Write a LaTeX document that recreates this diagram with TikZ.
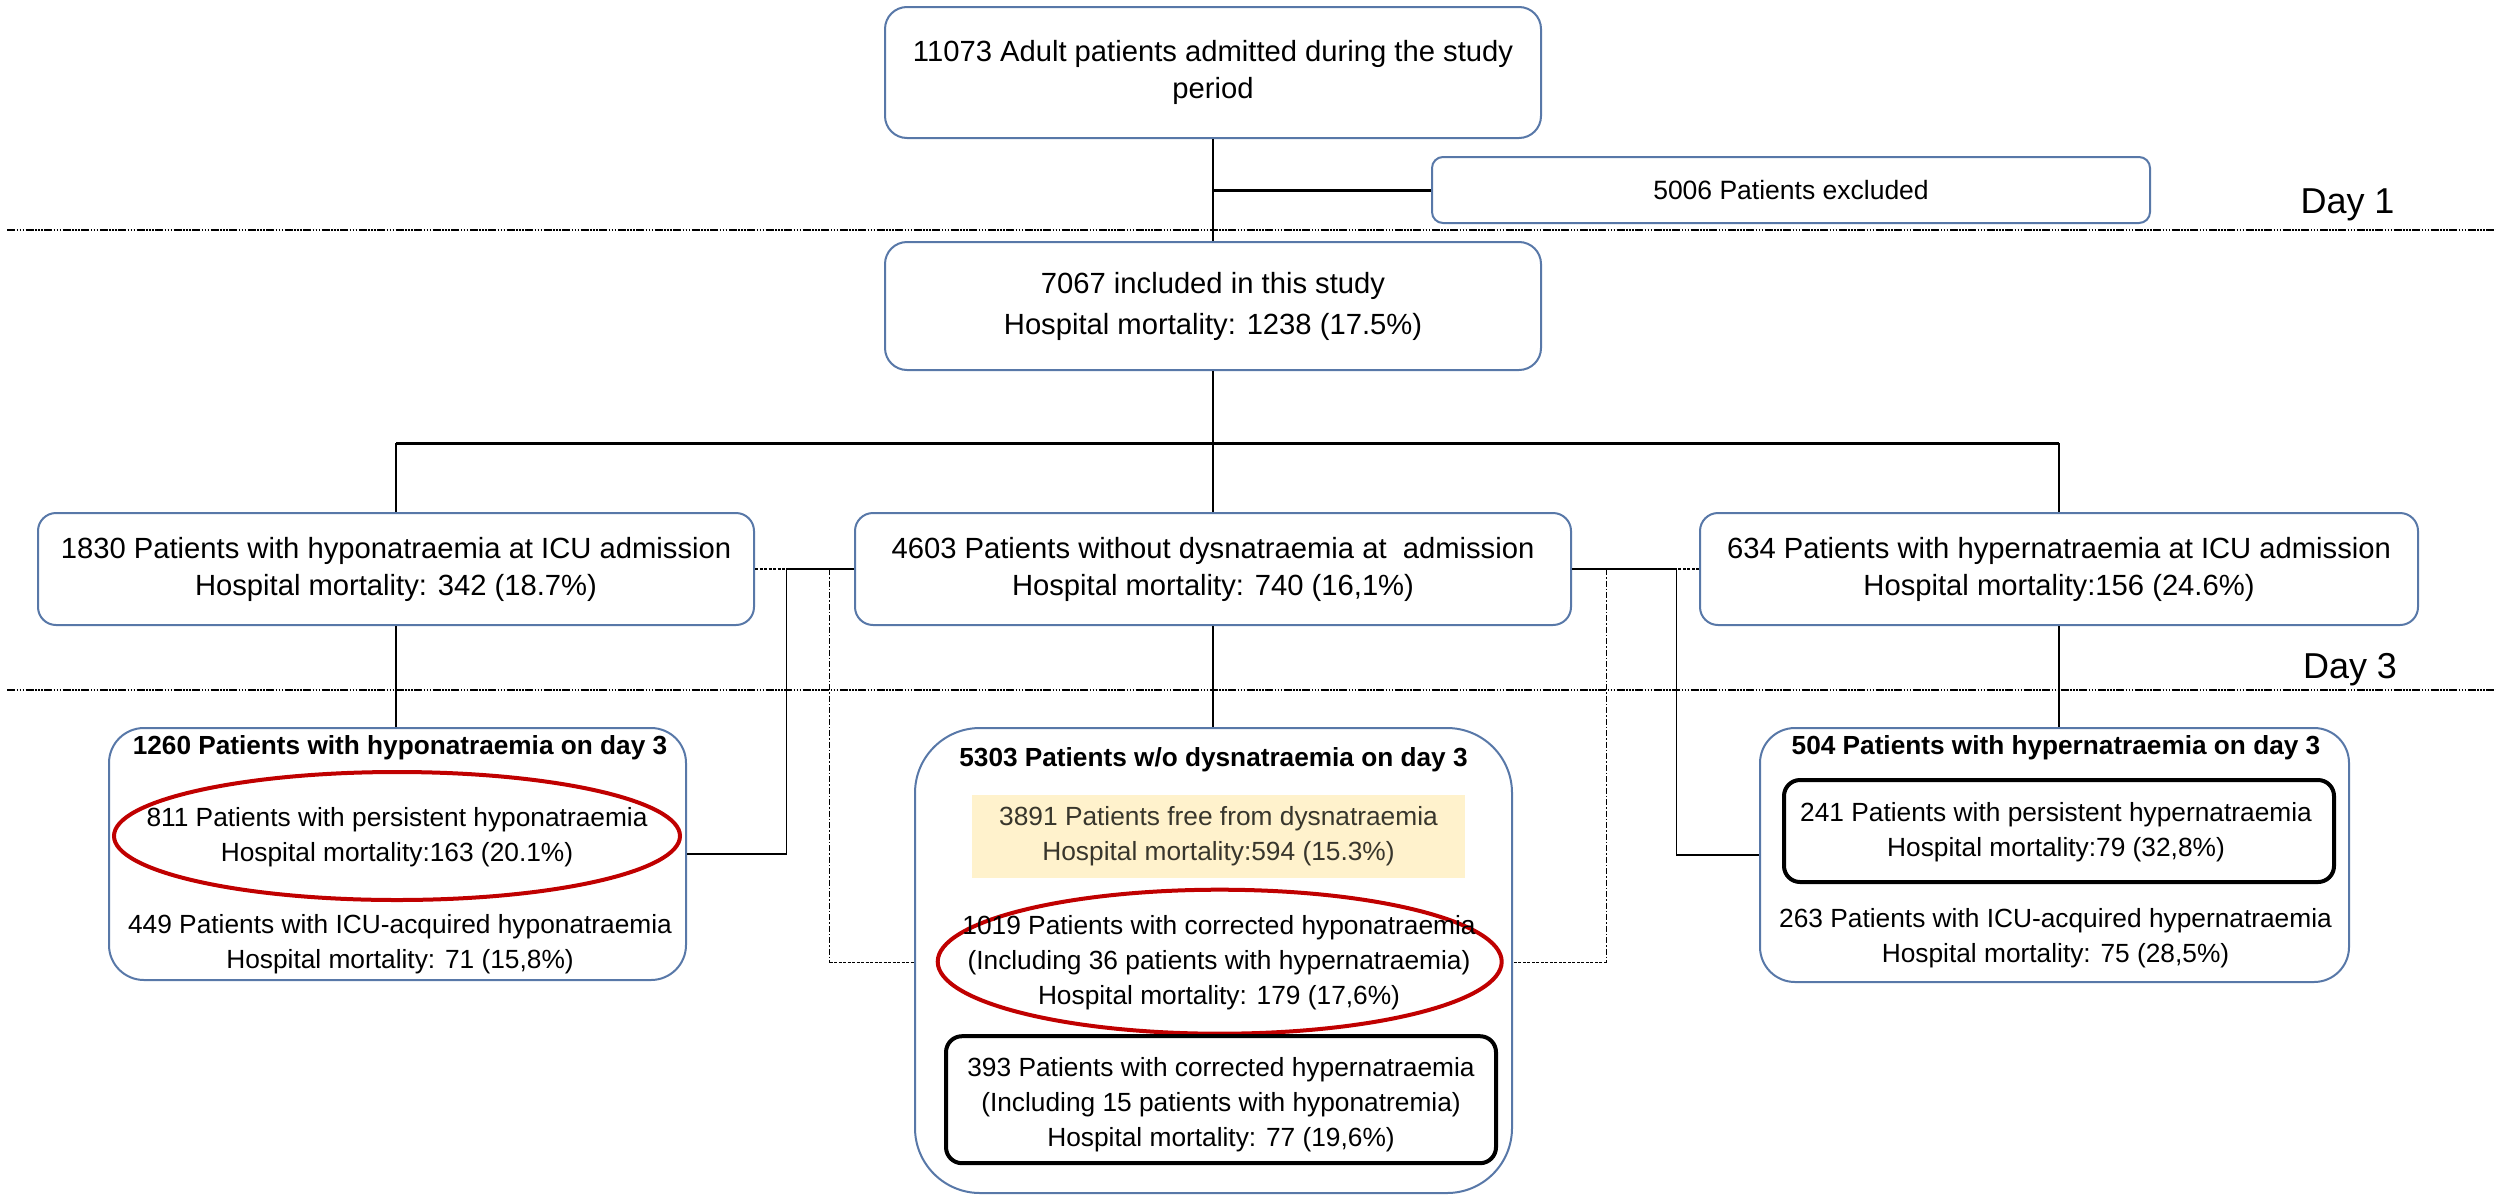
\documentclass[tikz,border=0pt]{standalone}
\usepackage{fontspec}
\setmainfont{Liberation Sans}
\usetikzlibrary{shapes.geometric}
\definecolor{boxblue}{HTML}{5878A8}
\definecolor{ellred}{HTML}{C00000}
\definecolor{paleyellow}{HTML}{FFF2CC}
\definecolor{olivetext}{HTML}{38362C}
\begin{document}
\begin{tikzpicture}[x=1pt,y=-1pt,
  box/.style={draw=boxblue, line width=2pt, fill=white, rounded corners=#1, inner sep=0pt, align=center, font=\fontsize{29.2}{37}\selectfont},
  box/.default=18pt,
  txt/.style={inner sep=0pt, align=center, font=\fontsize{26.3}{35}\selectfont},
  ttl/.style={inner sep=0pt, font=\bfseries\fontsize{26.2}{30}\selectfont},
  redell/.style={ellipse, draw=ellred, line width=4pt, inner sep=0pt},
  blkbox/.style={draw=black, line width=4pt, rounded corners=16pt, inner sep=0pt},
  conn/.style={line width=1.6pt},
  heavy/.style={line width=3pt},
  dashv/.style={line width=1.3pt, dash pattern=on 6pt off 2pt on 1.5pt off 2pt},
  doth/.style={line width=1.3pt, dash pattern=on 3pt off 1.5pt},
  dayline/.style={line width=1.4pt, dash pattern=on 8pt off 1.5pt on 1.5pt off 1.5pt on 1.5pt off 1.5pt on 1.5pt off 1.5pt},
  daylbl/.style={inner sep=0pt, anchor=base, font=\fontsize{36}{40}\selectfont}
]
\useasboundingbox (0,0) rectangle (2496,1194);

% day separators
\coordinate (d1a) at (7,230);
\coordinate (d1b) at (2496,230);
\coordinate (d3a) at (7,690);
\coordinate (d3b) at (2496,690);
\draw[dayline] (d1a) -- (d1b);
\draw[dayline] (d3a) -- (d3b);
\node[daylbl] (day1) at (2347.5,213) {Day 1};
\node[daylbl] (day3) at (2350,678) {Day 3};

% top boxes
\node[box=22pt, minimum width=656pt, minimum height=131pt] (A) at (1213,72.5)
  {11073 Adult patients admitted during the study\\period};
\node[box=11pt, minimum width=718pt, minimum height=66pt, font=\fontsize{26.5}{32}\selectfont] (X) at (1791,190)
  {5006 Patients excluded};
\node[box=22pt, minimum width=656pt, minimum height=128pt, font=\fontsize{29.2}{41}\selectfont] (B) at (1213,306)
  {7067 included in this study\\Hospital mortality: 1238 (17.5\%)};

% admission boxes
\node[box, minimum width=716pt, minimum height=112pt] (C) at (396,569)
  {1830 Patients with hyponatraemia at ICU admission\\Hospital mortality: 342 (18.7\%)};
\node[box, minimum width=716pt, minimum height=112pt] (D) at (1213,569)
  {4603 Patients without dysnatraemia at\ \ admission\\Hospital mortality: 740 (16,1\%)};
\node[box, minimum width=718pt, minimum height=112pt] (E) at (2059,569)
  {634 Patients with hypernatraemia at ICU admission\\Hospital mortality:156 (24.6\%)};

% day 3: hyponatraemia
\node[box=35pt, minimum width=577pt, minimum height=252pt] (F) at (397.5,854) {};
\node[ttl] (Ft) at (400,748) {1260 Patients with hyponatraemia on day 3};
\node[redell, minimum width=566pt, minimum height=128pt] (Fe) at (397,836) {};
\node[txt] (Fp) at (397,837.5) {811 Patients with persistent hyponatraemia\\Hospital mortality:163 (20.1\%)};
\node[txt] (Fa) at (400,944) {449 Patients with ICU-acquired hyponatraemia\\Hospital mortality: 71 (15,8\%)};

% day 3: without dysnatraemia
\node[box=65pt, minimum width=597pt, minimum height=465pt] (G) at (1213.5,960.5) {};
\node[ttl] (Gt) at (1213.5,760) {5303 Patients w/o dysnatraemia on day 3};
\node[txt, fill=paleyellow, text=olivetext, minimum width=493pt, minimum height=83pt] (Gy) at (1218.5,836)
  {3891 Patients free from dysnatraemia\\Hospital mortality:594 (15.3\%)};
\node[redell, minimum width=564pt, minimum height=144pt] (Ge) at (1219.7,961.7) {};
\node[txt] (Gc) at (1219,962.5) {1019 Patients with corrected hyponatraemia\\(Including 36 patients with hypernatraemia)\\Hospital mortality: 179 (17,6\%)};
\node[blkbox, minimum width=550pt, minimum height=127pt] (Gh) at (1221,1099.7) {};
\node[txt] (Ghx) at (1221,1105)
  {393 Patients with corrected hypernatraemia\\(Including 15 patients with hyponatremia)\\Hospital mortality: 77 (19,6\%)};

% day 3: hypernatraemia
\node[box=35pt, minimum width=589pt, minimum height=254pt] (H) at (2054.5,855) {};
\node[ttl] (Ht) at (2056,748) {504 Patients with hypernatraemia on day 3};
\node[blkbox, minimum width=550pt, minimum height=102pt] (Hp) at (2059,831) {};
\node[txt] (Hpx) at (2056,832.5)
  {241 Patients with persistent hypernatraemia\\Hospital mortality:79 (32,8\%)};
\node[txt] (Ha) at (2055.5,938) {263 Patients with ICU-acquired hypernatraemia\\Hospital mortality: 75 (28,5\%)};

% main tree connectors
\coordinate (barL) at (396,443);
\coordinate (barM) at (1213,443);
\coordinate (barR) at (2059,443);
\draw[conn] (A.south) -- (B.north);
\draw[heavy] (A.south |- X.west) -- (X.west);
\draw[conn] (B.south) -- (barM);
\draw[heavy] (barL) -- (barR);
\draw[conn] (barL) -- (C.north);
\draw[conn] (barM) -- (D.north);
\draw[conn] (barR) -- (E.north);
\draw[conn] (C.south) -- (C.south |- F.north);
\draw[conn] (D.south) -- (D.south |- G.north);
\draw[conn] (E.south) -- (E.south |- H.north);

% cross connectors
\coordinate (jL) at (786.5,569);
\coordinate (dL) at (829.5,569);
\coordinate (dLb) at (829.5,962.7);
\coordinate (jR) at (1676.6,569);
\coordinate (dR) at (1606.5,569);
\coordinate (dRb) at (1606.5,962.7);
\draw[doth] (C.east) -- (dL);
\draw[dashv] (dL) -- (dLb);
\draw[doth] (dLb) -- (dLb -| G.west);
\draw[doth] (E.west) -- (dR);
\draw[dashv] (dR) -- (dRb);
\draw[doth] (dRb) -- (dRb -| G.east);
\draw[conn] (D.west) -- (jL) |- (F.east);
\draw[conn] (D.east) -- (jR) |- (H.west);
\end{tikzpicture}
\end{document}
